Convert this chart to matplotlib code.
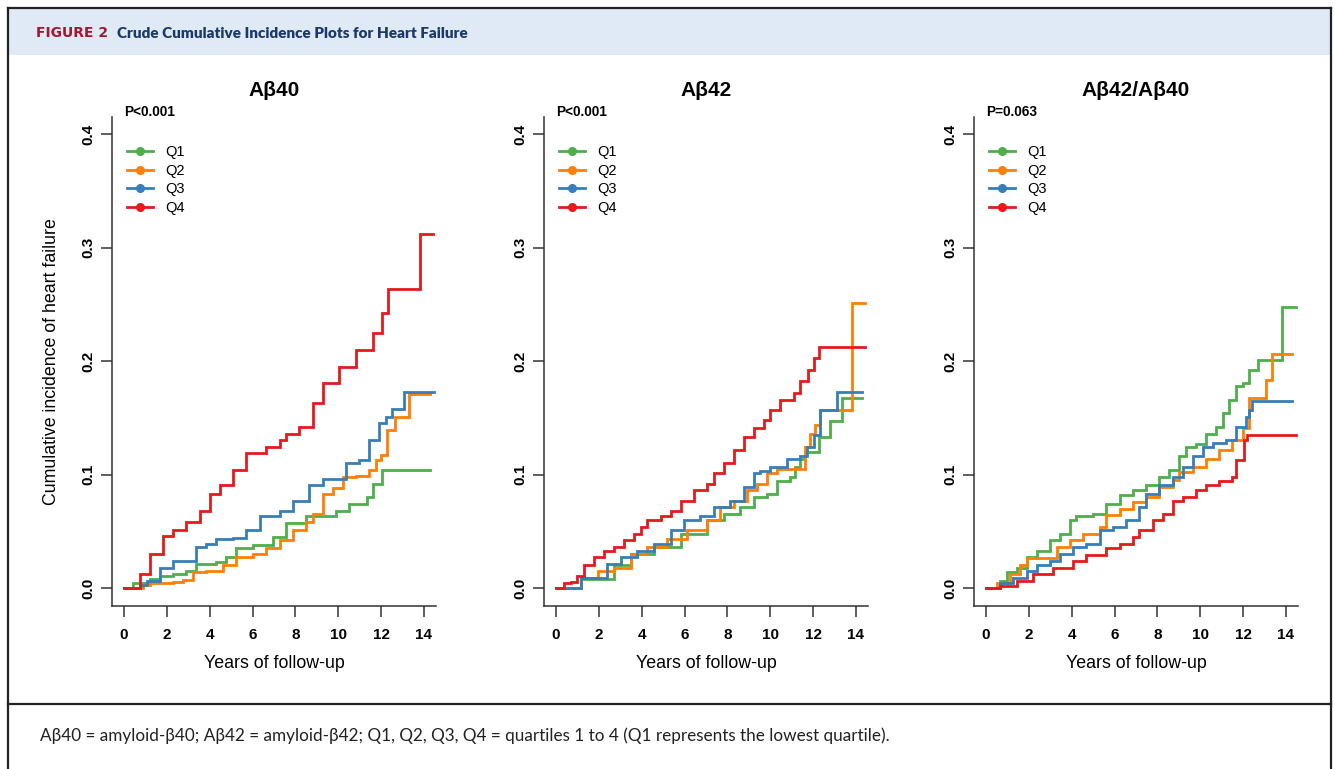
import matplotlib
matplotlib.use("Agg")
import matplotlib.pyplot as plt
import matplotlib.transforms as mtransforms
from matplotlib.lines import Line2D
from matplotlib.patches import Rectangle

W, H = 1335, 769

# ---------------- data ----------------
panel_titles = ["Aβ40", "Aβ42", "Aβ42/Aβ40"]
p_values = ["P<0.001", "P<0.001", "P=0.063"]
quartiles = ["Q1", "Q2", "Q3", "Q4"]
colors = ["#4daf4a", "#ff7f00", "#377eb8", "#e41a1c"]
x_ticks = [0, 2, 4, 6, 8, 10, 12, 14]
y_ticks = [0.0, 0.1, 0.2, 0.3, 0.4]
y_tick_labels = ["0.0", "0.1", "0.2", "0.3", "0.4"]
x_label = "Years of follow-up"
y_label = "Cumulative incidence of heart failure"

# Panel 1: Abeta40
ab40_q1_t = [0, 0.43, 1.2, 1.67, 2.29, 2.91, 3.38, 4.31, 4.78, 5.24, 6.0, 6.95, 7.57, 8.5, 9.9, 10.5, 11.36, 11.6, 12.06, 14.3]
ab40_q1_v = [0, .004, .008, .011, .012, .015, .021, .023, .027, .035, .038, .045, .057, .063, .068, .074, .080, .092, .104, .104]
ab40_q2_t = [0, 0.9, 1.2, 2.29, 2.76, 3.22, 3.84, 4.62, 5.24, 6.0, 6.64, 7.26, 7.88, 8.5, 8.8, 9.27, 9.74, 10.2, 10.82, 11.44, 11.75, 12.0, 12.28, 12.67, 13.29, 14.3]
ab40_q2_v = [0, .003, .004, .005, .007, .014, .015, .020, .027, .030, .035, .042, .051, .058, .065, .083, .088, .098, .099, .104, .113, .117, .139, .151, .171, .171]
ab40_q3_t = [0, 0.74, 1.05, 1.67, 2.29, 3.38, 3.84, 4.31, 5.09, 5.7, 6.33, 7.26, 7.88, 8.65, 9.27, 10.36, 10.98, 11.44, 11.9, 12.22, 12.5, 13.07, 14.47]
ab40_q3_v = [0, .003, .006, .018, .024, .036, .039, .043, .044, .051, .063, .068, .077, .091, .096, .110, .113, .130, .145, .151, .158, .173, .173]
ab40_q4_t = [0, 0.74, 1.21, 1.83, 2.29, 2.91, 3.53, 4.0, 4.47, 5.09, 5.7, 6.64, 7.26, 7.57, 8.19, 8.8, 9.27, 10.05, 10.82, 11.6, 12.06, 12.3, 13.8, 14.4]
ab40_q4_v = [0, .012, .030, .046, .051, .058, .068, .083, .091, .104, .119, .124, .130, .136, .142, .163, .181, .195, .210, .225, .242, .263, .312, .312]

# Panel 2: Abeta42
ab42_q1_t = [0, 1.16, 2.71, 3.49, 4.57, 5.81, 7.05, 7.83, 8.6, 9.22, 9.84, 10.31, 10.93, 11.16, 11.4, 11.63, 12.25, 12.79, 13.33, 14.26]
ab42_q1_v = [0, .008, .020, .030, .036, .048, .060, .065, .071, .080, .083, .094, .098, .107, .114, .120, .133, .147, .167, .167]
ab42_q2_t = [0, 1.16, 1.94, 2.71, 3.49, 4.26, 5.19, 6.12, 7.05, 7.67, 8.29, 8.91, 9.38, 9.84, 10.31, 11.4, 11.63, 11.86, 12.09, 12.33, 13.8, 14.42]
ab42_q2_v = [0, .009, .015, .018, .030, .036, .043, .051, .060, .071, .077, .086, .092, .101, .105, .105, .124, .136, .144, .157, .251, .251]
ab42_q3_t = [0, 1.16, 2.4, 3.02, 3.8, 4.57, 5.35, 5.97, 6.74, 7.36, 8.14, 8.76, 9.22, 9.53, 10.0, 10.78, 11.4, 11.71, 12.02, 12.33, 13.1, 14.26]
ab42_q3_v = [0, .009, .021, .027, .033, .039, .051, .060, .063, .071, .077, .089, .101, .103, .107, .114, .116, .124, .135, .157, .173, .173]
ab42_q4_t = [0, 0.39, 0.7, 1.0, 1.32, 1.78, 2.25, 2.71, 3.18, 3.64, 3.95, 4.26, 4.88, 5.35, 5.81, 6.43, 7.05, 7.36, 7.83, 8.29, 8.76, 9.22, 9.69, 10.0, 10.47, 11.09, 11.4, 11.78, 12.02, 12.25, 14.42]
ab42_q4_v = [0, .004, .005, .011, .020, .027, .033, .036, .042, .048, .054, .060, .063, .068, .077, .086, .092, .101, .110, .122, .133, .141, .148, .157, .166, .172, .182, .192, .203, .212, .212]

# Panel 3: Abeta42/Abeta40
ratio_q1_t = [0, 0.65, 0.96, 1.43, 1.89, 2.36, 2.98, 3.44, 3.91, 4.22, 5.0, 5.61, 6.23, 6.85, 7.47, 8.09, 8.56, 9.02, 9.33, 9.8, 10.26, 10.73, 11.04, 11.35, 11.66, 11.97, 12.28, 12.67, 13.83, 14.45]
ratio_q1_v = [0, .006, .014, .018, .027, .033, .042, .048, .060, .063, .065, .074, .082, .086, .091, .098, .104, .116, .124, .127, .136, .142, .154, .166, .178, .181, .192, .201, .248, .248]
ratio_q2_t = [0, 0.5, 1.12, 1.58, 1.89, 2.82, 3.29, 3.91, 4.53, 5.3, 5.61, 6.23, 6.85, 7.47, 8.09, 8.71, 9.02, 9.64, 10.26, 10.88, 11.5, 11.97, 12.28, 13.05, 13.36, 14.29]
ratio_q2_v = [0, .004, .012, .020, .026, .026, .036, .042, .048, .054, .064, .070, .076, .080, .089, .095, .102, .107, .114, .122, .130, .141, .167, .183, .206, .206]
ratio_q3_t = [0, 0.65, 1.27, 1.89, 2.36, 2.98, 3.44, 4.06, 4.68, 5.3, 5.92, 6.54, 7.16, 7.47, 8.09, 8.71, 9.18, 9.64, 10.11, 10.57, 11.19, 11.66, 12.12, 12.28, 12.43, 14.29]
ratio_q3_v = [0, .004, .009, .015, .020, .024, .030, .036, .039, .051, .054, .060, .071, .083, .091, .098, .107, .116, .124, .128, .130, .142, .151, .157, .165, .165]
ratio_q4_t = [0, 0.65, 1.43, 2.2, 3.13, 4.06, 4.68, 5.61, 6.23, 6.85, 7.16, 7.78, 8.25, 8.71, 9.18, 9.8, 10.26, 10.88, 11.5, 11.66, 12.05, 12.2, 14.45]
ratio_q4_v = [0, .002, .006, .012, .018, .024, .029, .035, .039, .045, .051, .060, .065, .077, .080, .086, .091, .094, .098, .113, .130, .135, .135]

panels = [
    [(ab40_q1_t, ab40_q1_v), (ab40_q2_t, ab40_q2_v), (ab40_q3_t, ab40_q3_v), (ab40_q4_t, ab40_q4_v)],
    [(ab42_q1_t, ab42_q1_v), (ab42_q2_t, ab42_q2_v), (ab42_q3_t, ab42_q3_v), (ab42_q4_t, ab42_q4_v)],
    [(ratio_q1_t, ratio_q1_v), (ratio_q2_t, ratio_q2_v), (ratio_q3_t, ratio_q3_v), (ratio_q4_t, ratio_q4_v)],
]

# ---------------- figure ----------------
plt.rcParams["font.family"] = ["Liberation Sans", "DejaVu Sans"]
fig = plt.figure(figsize=(W / 100, H / 100), dpi=100)


def fx(x):
    return x / W


def fy(y):
    return 1 - y / H


# outer frame / header band
fig.patches.append(Rectangle((fx(9), fy(55)), fx(1322), 46 / H, transform=fig.transFigure,
                             facecolor="#dfeaf6", edgecolor="none", zorder=0))
frame_kw = dict(transform=fig.transFigure, color="#222222", lw=1.6, zorder=5)
fig.add_artist(Line2D([fx(8), fx(1331)], [fy(8), fy(8)], **frame_kw))
fig.add_artist(Line2D([fx(8), fx(8)], [fy(8), fy(769)], **frame_kw))
fig.add_artist(Line2D([fx(1331), fx(1331)], [fy(8), fy(769)], **frame_kw))
fig.add_artist(Line2D([fx(8), fx(1331)], [fy(704), fy(704)], **frame_kw))

fig.text(fx(36), fy(33), "FIGURE 2", family="DejaVu Sans", weight="bold", size=10,
         color="#a3182f", va="center", ha="left")
fig.text(fx(117), fy(33), "Crude Cumulative Incidence Plots for Heart Failure", family="Lato",
         weight="heavy", size=11.0, color="#1b3a6b", va="center", ha="left")
fig.text(fx(40), fy(736),
         "Aβ40 = amyloid-β40; Aβ42 = amyloid-β42; Q1, Q2, Q3, Q4 = quartiles 1 to 4 (Q1 represents the lowest quartile).",
         family="Lato", size=12.3, color="#222222", va="center", ha="left")

lefts = [112, 544, 974]
ax_w, ax_top, ax_bot = 324, 117, 606
px_per_year = 300 / 14
px_per_unit = 1135.0

for i, ax_left in enumerate(lefts):
    ax = fig.add_axes([fx(ax_left), fy(ax_bot), ax_w / W, (ax_bot - ax_top) / H])
    x0 = -12 / px_per_year
    ax.set_xlim(x0, x0 + ax_w / px_per_year)
    y0 = -18 / px_per_unit
    ax.set_ylim(y0, y0 + (ax_bot - ax_top) / px_per_unit)

    for (t, v), c, q in zip(panels[i], colors, quartiles):
        ax.step(t, v, where="post", color=c, lw=2.0, solid_joinstyle="miter", label=q)

    for s in ["top", "right"]:
        ax.spines[s].set_visible(False)
    for s in ["left", "bottom"]:
        ax.spines[s].set_linewidth(1.1)
        ax.spines[s].set_color("#333333")

    ax.set_xticks(x_ticks)
    ax.set_xticklabels([str(x) for x in x_ticks], weight="bold", size=11)
    ax.set_yticks(y_ticks)
    ax.set_yticklabels(y_tick_labels, weight="bold", size=11, rotation=90, va="center")
    ax.tick_params(axis="x", length=8, width=1.1, pad=8, color="#333333")
    ax.tick_params(axis="y", length=8, width=1.1, pad=4, color="#333333")

    h = ax_bot - ax_top
    ax.text(0.5, (ax_bot - 664) / h, x_label, transform=ax.transAxes,
            ha="center", va="center", size=12.8)
    ax.text(0.5, (ax_bot - 90) / h, panel_titles[i], transform=ax.transAxes,
            ha="center", va="center", size=15, weight="bold")
    ax.text(0, (ax_bot - 112) / h, p_values[i],
            transform=mtransforms.blended_transform_factory(ax.transData, ax.transAxes),
            ha="left", va="center", size=9.8, weight="bold")

    handles = [Line2D([], [], color=c, lw=2.0, marker="o", markersize=5.5, label=q)
               for c, q in zip(colors, quartiles)]
    ax.legend(handles=handles, loc="upper left",
              bbox_to_anchor=(15 / ax_w, (ax_bot - 145) / h),
              frameon=False, fontsize=10.5, handlelength=1.8, handletextpad=0.85,
              labelspacing=0.32, borderpad=0, borderaxespad=0)

    if i == 0:
        fig.text(fx(52), fy(362), y_label, rotation=90, ha="center", va="center", size=12.8)

fig.savefig("out.png", dpi=100)
